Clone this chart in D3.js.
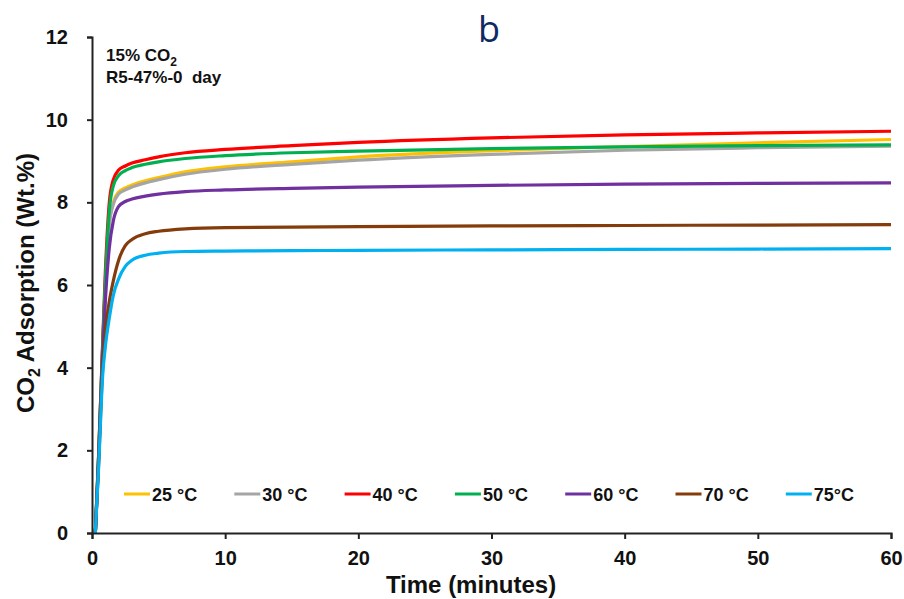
<!DOCTYPE html>
<html>
<head>
<meta charset="utf-8">
<script src="https://cdn.jsdelivr.net/npm/d3@7"></script>
<style>
  body { margin: 0; background: #fff; }
  text { font-family: "Liberation Sans", Arial, sans-serif; }
</style>
</head>
<body>
<script>
// time points (minutes) shared by every series
const times = [0.25, 0.5, 0.8, 1, 1.3, 1.6, 2, 2.5, 3, 4, 5, 7, 10, 15, 20, 30, 40, 50, 60];

const s25 = [0, 1.9, 4.5, 6.0, 7.5, 8.0, 8.25, 8.35, 8.42, 8.52, 8.6, 8.74, 8.86, 8.98, 9.1, 9.25, 9.35, 9.44, 9.52];
const s30 = [0, 1.9, 4.5, 6.0, 7.45, 7.95, 8.2, 8.3, 8.37, 8.47, 8.55, 8.68, 8.8, 8.92, 9.02, 9.16, 9.26, 9.32, 9.36];
const s40 = [0, 1.9, 4.6, 6.3, 8.0, 8.55, 8.78, 8.88, 8.95, 9.03, 9.1, 9.2, 9.28, 9.37, 9.45, 9.56, 9.63, 9.68, 9.72];
const s50 = [0, 1.9, 4.5, 6.1, 7.8, 8.4, 8.65, 8.77, 8.84, 8.92, 8.98, 9.06, 9.13, 9.2, 9.24, 9.3, 9.34, 9.37, 9.39];
const s60 = [0, 1.8, 4.3, 5.6, 6.9, 7.55, 7.9, 8.02, 8.08, 8.15, 8.2, 8.26, 8.3, 8.34, 8.37, 8.41, 8.44, 8.46, 8.47];
const s70 = [0, 1.7, 4.0, 4.9, 5.6, 6.1, 6.6, 6.95, 7.1, 7.24, 7.3, 7.36, 7.39, 7.4, 7.41, 7.43, 7.44, 7.45, 7.46];
const s75 = [0, 1.6, 3.8, 4.5, 5.2, 5.75, 6.15, 6.45, 6.6, 6.72, 6.77, 6.81, 6.82, 6.83, 6.84, 6.85, 6.86, 6.87, 6.88];

const labels = ["25 °C", "30 °C", "40 °C", "50 °C", "60 °C", "70 °C", "75°C"];
const colors = ["#FFC000", "#A5A5A5", "#FF0000", "#00B050", "#7030A0", "#843C0C", "#00B0F0"];
const seriesValues = [s25, s30, s40, s50, s60, s70, s75];

const xTicks = [0, 10, 20, 30, 40, 50, 60];
const yTicks = [0, 2, 4, 6, 8, 10, 12];

const width = 904;
const height = 599;

const svg = d3.select("body")
    .append("svg")
    .attr("width", width)
    .attr("height", height);

const x = d3.scaleLinear().domain([0, 60]).range([92, 891]);
const y = d3.scaleLinear().domain([0, 12]).range([533, 37]);

// panel letter
svg.append("text")
    .attr("x", 489).attr("y", 42)
    .attr("text-anchor", "middle")
    .style("font-family", "'Open Sans', sans-serif")
    .style("font-size", "36px")
    .style("fill", "#0f2a63")
    .text("b");

// curves
const line = d3.line()
    .x(d => x(d[0]))
    .y(d => y(d[1]))
    .curve(d3.curveMonotoneX);

seriesValues.forEach(function(vals, i) {
    svg.append("path")
        .datum(times.map((t, j) => [t, vals[j]]))
        .attr("fill", "none")
        .attr("stroke", colors[i])
        .attr("stroke-width", 3.2)
        .attr("d", line);
});

// axes
const xAxis = svg.append("g")
    .attr("transform", "translate(0,533)")
    .call(d3.axisBottom(x).tickValues(xTicks).tickSize(6).tickPadding(12));
const yAxis = svg.append("g")
    .attr("transform", "translate(92,0)")
    .call(d3.axisLeft(y).tickValues(yTicks).tickSize(5).tickPadding(19));

[xAxis, yAxis].forEach(function(g) {
    g.select(".domain").attr("stroke", "#222").attr("stroke-width", 2);
    g.selectAll(".tick line").attr("stroke", "#222").attr("stroke-width", 2);
    g.selectAll(".tick text")
        .style("font-family", "'Liberation Sans', Arial, sans-serif")
        .style("font-size", "20px")
        .style("font-weight", "bold")
        .style("fill", "#111");
});

// axis titles
svg.append("text")
    .attr("x", 471).attr("y", 593)
    .attr("text-anchor", "middle")
    .style("font-size", "24px").style("font-weight", "bold").style("fill", "#111")
    .text("Time (minutes)");

const yt = svg.append("text")
    .attr("transform", "translate(34,283) rotate(-90)")
    .attr("text-anchor", "middle")
    .style("font-size", "24px").style("font-weight", "bold").style("fill", "#111");
yt.append("tspan").text("CO");
yt.append("tspan").attr("dy", 6).style("font-size", "16px").text("2");
yt.append("tspan").attr("dy", -6).text(" Adsorption (Wt.%)");

// annotation
const a1 = svg.append("text")
    .attr("x", 106).attr("y", 61)
    .style("font-size", "17px").style("font-weight", "bold").style("fill", "#111");
a1.append("tspan").text("15% CO");
a1.append("tspan").attr("dy", 5).style("font-size", "12px").text("2");
svg.append("text")
    .attr("x", 106).attr("y", 83)
    .style("font-size", "17px").style("font-weight", "bold").style("fill", "#111")
    .style("white-space", "pre")
    .text("R5-47%-0  day");

// legend
const legend = svg.append("g");
labels.forEach(function(lab, i) {
    const lx = 124 + i * 110.3;
    legend.append("line")
        .attr("x1", lx).attr("x2", lx + 26)
        .attr("y1", 494).attr("y2", 494)
        .attr("stroke", colors[i]).attr("stroke-width", 3);
    legend.append("text")
        .attr("x", lx + 28).attr("y", 500.5)
        .style("font-size", "18px").style("font-weight", "bold").style("fill", "#111")
        .text(lab);
});
</script>
</body>
</html>
